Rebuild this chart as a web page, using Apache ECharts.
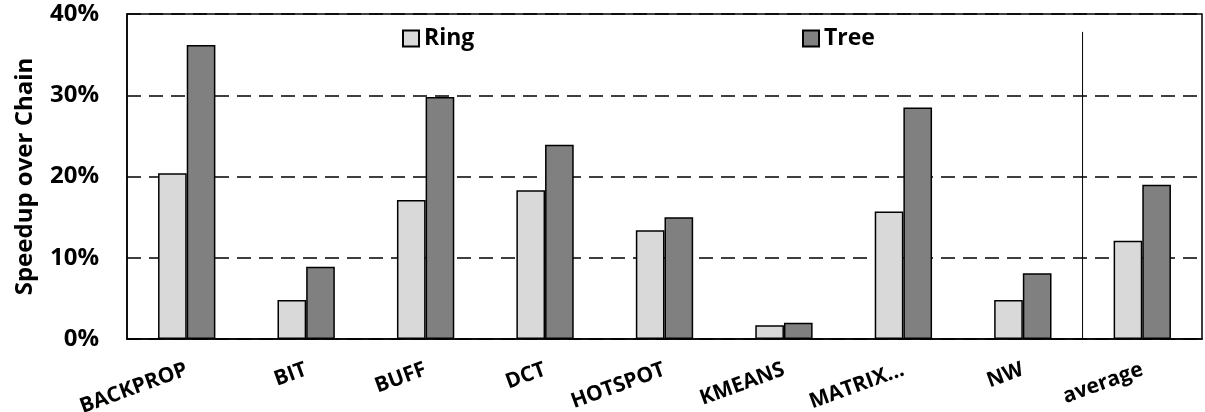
<!DOCTYPE html>
<html>
<head>
<meta charset="utf-8">
<script src="https://cdn.jsdelivr.net/npm/echarts@6/dist/echarts.min.js"></script>
<style>
  html, body { margin: 0; padding: 0; background: #fff; }
  #chart { width: 1205px; height: 412px; }
</style>
</head>
<body>
<div id="chart"></div>
<script>
// Benchmarks and speedup (%) of Ring and Tree topologies relative to Chain
const categories = ['BACKPROP', 'BIT', 'BUFF', 'DCT', 'HOTSPOT', 'KMEANS', 'MATRIX...', 'NW', 'average'];
const ringValues = [20.4, 4.8, 17.1, 18.3, 13.4, 1.7, 15.7, 4.8, 12.1];
const treeValues = [36.2, 8.9, 29.8, 23.9, 15.0, 2.0, 28.5, 8.1, 19.0];
const yTicks = [0, 10, 20, 30, 40];
// Divider between the benchmarks and the average group (category-boundary units)
const dividerAt = 8;
const dividerTop = 37.8;

const font = '"Open Sans", "DejaVu Sans", sans-serif';
const chart = echarts.init(document.getElementById('chart'));

chart.setOption({
  animation: false,
  grid: {
    left: 127, right: 3, top: 14, bottom: 73,
    outerBoundsMode: 'none',
    show: true, borderColor: '#000', borderWidth: 1.5
  },
  legend: [
    {
      data: ['Ring'], left: 397, top: 22, icon: 'rect',
      itemWidth: 16, itemHeight: 16, itemGap: 5,
      textStyle: { fontFamily: font, fontWeight: 'bold', fontSize: 23, color: '#000' }
    },
    {
      data: ['Tree'], left: 797, top: 22, icon: 'rect',
      itemWidth: 16, itemHeight: 16, itemGap: 5,
      textStyle: { fontFamily: font, fontWeight: 'bold', fontSize: 23, color: '#000' }
    }
  ],
  xAxis: [
    {
      type: 'category',
      data: categories,
      axisLine: { lineStyle: { color: '#000', width: 1.5 } },
      axisTick: { show: false },
      axisLabel: {
        rotate: 20, margin: 30, interval: 0,
        fontFamily: font, fontWeight: 'bold', fontSize: 21, color: '#000'
      }
    },
    { type: 'value', min: 0, max: categories.length, show: false }
  ],
  yAxis: {
    type: 'value',
    min: yTicks[0], max: yTicks[yTicks.length - 1], interval: 10,
    name: 'Speedup over Chain',
    nameLocation: 'middle', nameGap: 90,
    nameTextStyle: { fontFamily: font, fontWeight: 'bold', fontSize: 24, color: '#000' },
    axisLine: { show: true, lineStyle: { color: '#000', width: 1.5 } },
    axisTick: { show: false },
    axisLabel: {
      formatter: '{value}%', margin: 28,
      fontFamily: font, fontWeight: 'bold', fontSize: 24, color: '#000'
    },
    splitLine: { show: true, lineStyle: { color: '#000', width: 1.5, type: [14, 8] } }
  },
  series: [
    {
      name: 'Ring', type: 'bar', data: ringValues,
      barCategoryGap: '52%', barGap: '0%',
      itemStyle: { color: '#d9d9d9', borderColor: '#000', borderWidth: 1.5 }
    },
    {
      name: 'Tree', type: 'bar', data: treeValues,
      barCategoryGap: '52%', barGap: '0%',
      itemStyle: { color: '#808080', borderColor: '#000', borderWidth: 1.5 }
    },
    {
      name: 'divider', type: 'line', xAxisIndex: 1, silent: true,
      symbol: 'none',
      data: [[dividerAt, 0], [dividerAt, dividerTop]],
      lineStyle: { color: '#000', width: 1 }
    }
  ]
});
</script>
</body>
</html>
